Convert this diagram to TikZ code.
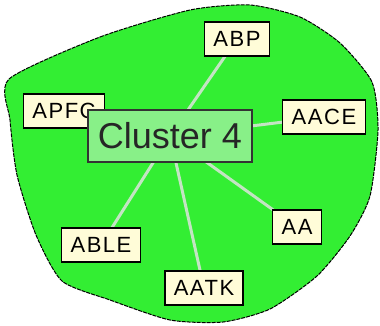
\documentclass[tikz,border=0pt]{standalone}
\usepackage{fontspec}
\setmainfont{Liberation Sans}
\newfontfamily\labelfont[LetterSpace=7]{Liberation Sans}
\usetikzlibrary{backgrounds}
\definecolor{blobgreen}{RGB}{51,238,51}
\definecolor{clustergreen}{RGB}{136,240,136}
\definecolor{labelcream}{RGB}{255,252,216}
\definecolor{linkgrey}{RGB}{195,228,195}

\tikzset{
  item/.style={draw=black, line width=1.5pt, fill=labelcream, font=\labelfont\fontsize{22}{22}\selectfont,
    minimum height=34pt, inner xsep=9pt, inner ysep=0pt},
  cluster/.style={draw=black!80, line width=1.5pt, fill=clustergreen, font=\fontsize{36}{36}\selectfont,
    minimum height=52pt, inner xsep=10pt, text=black!85},
  link/.style={linkgrey, line width=3pt}
}

\begin{document}
\begin{tikzpicture}[x=1pt,y=-1pt]
	\useasboundingbox (0,0) rectangle (380,326);
	% members of the cluster
	\node[item] (abp) at (237,39) {ABP};
	\node[item] (apfc) at (64,111) {APFC};
	\node[item] (aace) at (324,117) {AACE};
	\node[item] (aa) at (297,227) {AA};
	\node[item] (aatk) at (204,288) {AATK};
	\node[item] (able) at (101,245) {ABLE};
	\node[cluster] (c4) at (170,136) {Cluster 4};
	% hull and links behind the boxes
	\begin{scope}[on background layer]
		\draw[fill=blobgreen, line width=1pt, dash pattern=on 4pt off 1pt] plot[smooth cycle, tension=0.4] coordinates {
			(9,79) (100,37) (190,10) (250,5) (300,17) (340,43) (372,82)
			(378,130) (370,196) (350,236) (317,276) (270,309) (223,322)
			(170,320) (110,300) (62,281) (36,235) (17,175) (10,120)};
		\draw[link] (c4.center) -- (abp.center);
		\draw[link] (c4.center) -- (apfc.center);
		\draw[link] (c4.center) -- (aace.center);
		\draw[link] (c4.center) -- (aa.center);
		\draw[link] (c4.center) -- (aatk.center);
		\draw[link] (c4.center) -- (able.center);
	\end{scope}
\end{tikzpicture}
\end{document}
